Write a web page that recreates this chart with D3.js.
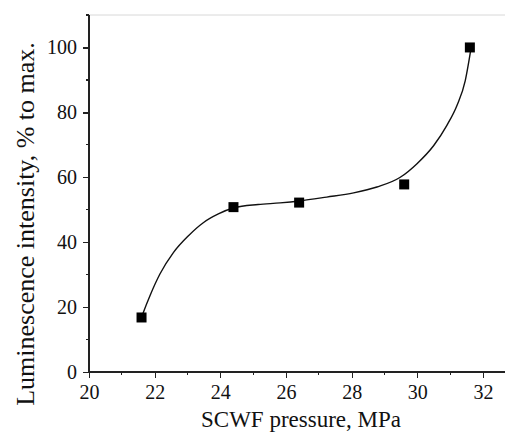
<!DOCTYPE html>
<meta charset="utf-8">
<style>
body { margin: 0; background: #fff; }
svg text { font-family: "Liberation Serif", "DejaVu Serif", serif; fill: #111; }
.axis path, .axis line { stroke: #222; stroke-width: 1.3; shape-rendering: crispEdges; }
.axis text { font-size: 20px; }
</style>
<body>
<script src="https://d3js.org/d3.v7.min.js"></script>
<script>

var width = 505
var height = 438

// measured points
var pressure = [21.6, 24.4, 26.4, 29.6, 31.6]
var intensity = [16.8, 50.8, 52.2, 57.8, 100]

// fitted curve
var fitX = [21.60, 21.66, 21.86, 22.16, 22.57, 23.03, 23.48, 23.94, 24.42, 25.15, 25.82, 26.41, 27.24, 28.06, 28.77, 29.48, 29.99, 30.50, 30.90, 31.21, 31.46, 31.64]
var fitY = [16.8, 18.5, 23.6, 30.2, 36.8, 42.0, 46.0, 48.7, 50.6, 51.6, 52.1, 52.7, 53.9, 55.2, 57.0, 60.0, 64.2, 69.8, 76.0, 82.2, 89.8, 100.0]

var xMajor = [20, 22, 24, 26, 28, 30, 32]
var xMinor = [21, 23, 25, 27, 29, 31]
var yMajor = [0, 20, 40, 60, 80, 100]
var yMinor = [10, 30, 50, 70, 90, 110]

var serif = "'Liberation Serif', 'DejaVu Serif', serif"

var svg = d3.select("body").append("svg")
    .attr("width", width)
    .attr("height", height)

var x = d3.scaleLinear()
    .domain([20, 32])
    .range([89, 483])

var y = d3.scaleLinear()
    .domain([0, 110])
    .range([372, 15])

// faint top frame
svg.append("line")
    .attr("x1", x(20)).attr("x2", width)
    .attr("y1", y(110)).attr("y2", y(110))
    .attr("stroke", "#d8d8d8")
    .attr("stroke-width", 1)

// x axis
var xa = svg.append("g")
    .attr("class", "axis")
    .attr("transform", "translate(0," + y(0) + ")")
xa.call(d3.axisBottom(x).tickValues(xMajor).tickSize(6).tickPadding(7).tickSizeOuter(0))
xa.attr("font-family", serif).attr("font-size", 20)
xa.select(".domain").remove()
xa.append("line")
    .attr("x1", x(20)).attr("x2", width)
xa.selectAll(".minor").data(xMinor).enter().append("line")
    .attr("class", "minor")
    .attr("x1", function(d) { return x(d) }).attr("x2", function(d) { return x(d) })
    .attr("y1", 0).attr("y2", 3)

// y axis
var ya = svg.append("g")
    .attr("class", "axis")
    .attr("transform", "translate(" + x(20) + ",0)")
ya.call(d3.axisLeft(y).tickValues(yMajor).tickSize(6).tickPadding(6).tickSizeOuter(0))
ya.attr("font-family", serif).attr("font-size", 20)
ya.select(".domain").remove()
ya.append("line")
    .attr("y1", y(0)).attr("y2", y(110))
ya.selectAll(".minor").data(yMinor).enter().append("line")
    .attr("class", "minor")
    .attr("y1", function(d) { return y(d) }).attr("y2", function(d) { return y(d) })
    .attr("x1", 0).attr("x2", -3)

// axis titles
svg.append("text")
    .attr("x", 301)
    .attr("y", 427)
    .attr("text-anchor", "middle")
    .style("font-size", "23px")
    .text("SCWF pressure, MPa")

svg.append("text")
    .attr("transform", "translate(34,224) rotate(-90)")
    .attr("text-anchor", "middle")
    .style("font-size", "26px")
    .text("Luminescence intensity, % to max.")

// fit line
var line = d3.line()
    .x(function(d) { return x(d[0]) })
    .y(function(d) { return y(d[1]) })
    .curve(d3.curveMonotoneX)

svg.append("path")
    .datum(d3.zip(fitX, fitY))
    .attr("fill", "none")
    .attr("stroke", "#111")
    .attr("stroke-width", 1.4)
    .attr("d", line)

// markers
svg.selectAll(".pt").data(d3.zip(pressure, intensity)).enter().append("rect")
    .attr("class", "pt")
    .attr("x", function(d) { return x(d[0]) - 5 })
    .attr("y", function(d) { return y(d[1]) - 5 })
    .attr("width", 10)
    .attr("height", 10)
    .attr("fill", "#000")

</script>
